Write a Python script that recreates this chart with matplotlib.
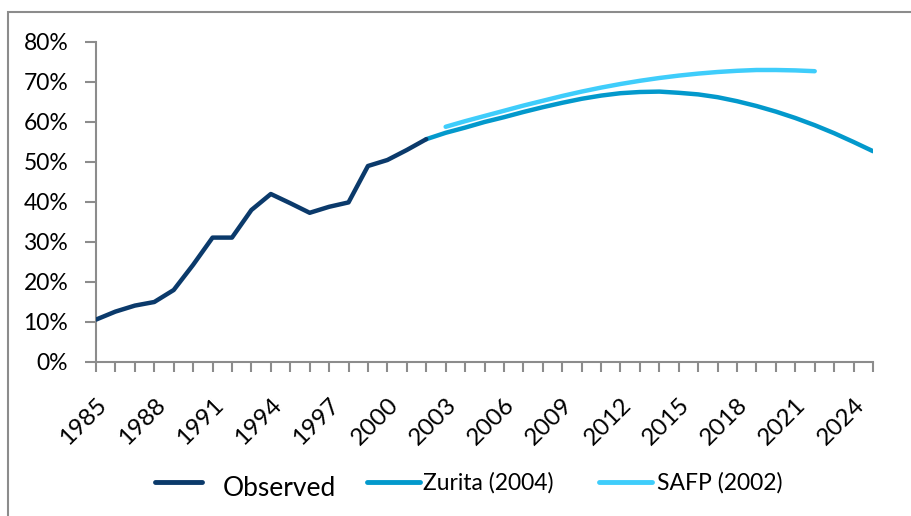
import matplotlib.pyplot as plt
from matplotlib.lines import Line2D
from matplotlib.patches import Rectangle
from matplotlib.ticker import FuncFormatter, MultipleLocator
from matplotlib.transforms import ScaledTranslation

plt.rcParams["font.family"] = ["Lato", "DejaVu Sans"]

# observed share, 1985-2002
obs_years = list(range(1985, 2003))
obs_vals = [10.6, 12.6, 14.1, 15.0, 18.0, 24.3, 31.1, 31.1, 38.0, 42.0,
            39.7, 37.3, 38.8, 39.9, 49.0, 50.5, 53.0, 55.7]

# Zurita (2004) projection, 2002-2025
zur_years = list(range(2002, 2026))
zur_vals = [55.7, 57.3, 58.6, 60.0, 61.2, 62.5, 63.7, 64.8, 65.8, 66.6,
            67.2, 67.5, 67.6, 67.3, 66.9, 66.2, 65.2, 64.0, 62.6, 61.0,
            59.2, 57.2, 55.0, 52.7]

# SAFP (2002) projection, 2003-2022
safp_years = list(range(2003, 2023))
safp_vals = [58.8, 60.2, 61.5, 62.8, 64.1, 65.3, 66.5, 67.6, 68.6, 69.5,
             70.3, 71.0, 71.6, 72.1, 72.5, 72.8, 73.0, 73.0, 72.9, 72.7]

tick_years = list(range(1985, 2025, 3))
series_names = ["Observed", "Zurita (2004)", "SAFP (2002)"]
colors = ["#0b3a6b", "#0399cc", "#3fcdfb"]

W, H = 911, 516
fig = plt.figure(figsize=(W / 100, H / 100), dpi=100)
ax = fig.add_axes([96 / W, 1 - 362 / H, 777 / W, 320 / H])

ax.plot(obs_years, obs_vals, color=colors[0], lw=3.2,
        solid_capstyle="round", zorder=3)
ax.plot(zur_years, zur_vals, color=colors[1], lw=3.2,
        solid_capstyle="round", zorder=2)
ax.plot(safp_years, safp_vals, color=colors[2], lw=3.2,
        solid_capstyle="round", zorder=1)

ax.set_xlim(1985, 2025)
ax.set_ylim(0, 80)
ax.yaxis.set_major_locator(MultipleLocator(10))
ax.yaxis.set_major_formatter(FuncFormatter(lambda v, p: f"{v:.0f}%"))
ax.set_xticks(range(1985, 2026), minor=True)
ax.set_xticks(tick_years)
ax.set_xticklabels([str(y) for y in tick_years], rotation=45,
                   ha="right", va="top", rotation_mode="anchor")
shift = ScaledTranslation(6 / 100, 0, fig.dpi_scale_trans)
for lab in ax.get_xticklabels():
    lab.set_transform(lab.get_transform() + shift)

for side in ["top", "right"]:
    ax.spines[side].set_visible(False)
for side in ["left", "bottom"]:
    ax.spines[side].set_color("#8c8c8c")
    ax.spines[side].set_linewidth(1.5)

ax.tick_params(axis="y", direction="out", length=8, width=1.5,
               color="#8c8c8c", labelsize=16.5, pad=12)
ax.tick_params(axis="x", which="both", direction="out", length=7, width=1.5,
               color="#8c8c8c", labelsize=17.5, pad=16)

# legend, laid out like the original (pixel positions)
leg_lines = [(155, 202), (367, 420), (599, 652)]
leg_text_x = [223, 423, 657]
leg_text_y = [488, 483, 483]
leg_sizes = [19, 16.5, 16.5]
for (x0, x1), tx, ty, fs, name, c in zip(leg_lines, leg_text_x, leg_text_y,
                                         leg_sizes, series_names, colors):
    fig.add_artist(Line2D([x0 / W, x1 / W], [1 - 482 / H, 1 - 482 / H],
                          transform=fig.transFigure, color=c, lw=3.5,
                          solid_capstyle="round"))
    fig.text(tx / W, 1 - ty / H, name, fontsize=fs, va="center", ha="left")

# outer chart frame (partially cropped)
fig.patches.append(Rectangle((8 / W, -0.1), 1.2, 1.1 - 12 / H,
                             transform=fig.transFigure, fill=False,
                             edgecolor="#8c8c8c", lw=1.5))

plt.savefig("out.png", dpi=100)
plt.close()
